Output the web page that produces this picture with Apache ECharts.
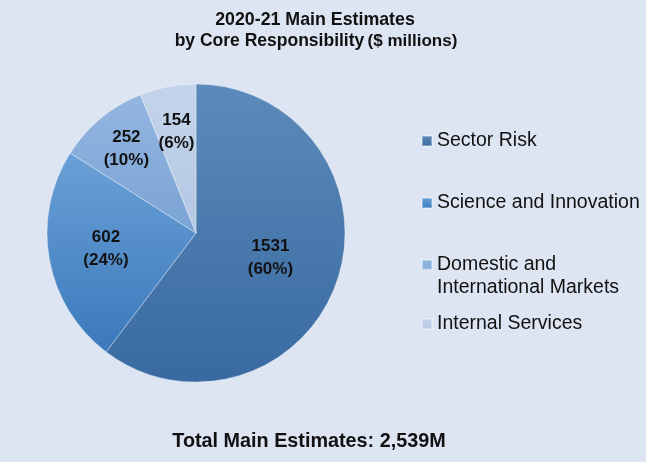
<!DOCTYPE html>
<html>
<head>
<meta charset="utf-8">
<script src="https://cdn.jsdelivr.net/npm/echarts@6/dist/echarts.min.js"></script>
<style>
html,body{margin:0;padding:0;background:#dde4f2;}
#chart{width:646px;height:462px;}
</style>
</head>
<body>
<div id="chart"></div>
<script>
// ---- data ----
const categories = ['Sector Risk', 'Science and Innovation', 'Domestic and International Markets', 'Internal Services'];
const values = [1531, 602, 252, 154];
const titleLine1 = '2020-21 Main Estimates';
const titleLine2 = 'by Core Responsibility';
const titleUnit = '($ millions)';
const totalText = 'Total Main Estimates: 2,539M';

// ---- styles ----
const FONT = '"Liberation Sans", Arial, sans-serif';
const sliceColors = [
  ['#5c8aba', '#386aa1'],
  ['#6aa0d7', '#3b79bb'],
  ['#93b6e0', '#7aa3d4'],
  ['#c4d4ea', '#b3c8e4']
];
const center = [196, 233];
const R = 149;
const labelInner = [2, 28, 63, 51]; // inner radius of the ring used to place each slice label

function grad(c) {
  return new echarts.graphic.LinearGradient(0, 0, 0, 1, [
    {offset: 0, color: c[0]}, {offset: 1, color: c[1]}
  ]);
}

const mainData = categories.map((n, i) => ({
  name: n, value: values[i], itemStyle: {color: grad(sliceColors[i])}
}));

const series = [{
  type: 'pie',
  center: center,
  radius: [0, R],
  startAngle: 90,
  clockwise: true,
  data: mainData,
  label: {show: false},
  labelLine: {show: false},
  itemStyle: {borderColor: 'rgba(255,255,255,0.35)', borderWidth: 1},
  emphasis: {disabled: true},
  silent: true,
  animation: false
}];

categories.forEach((_, k) => {
  series.push({
    type: 'pie',
    center: center,
    radius: [labelInner[k], R],
    startAngle: 90,
    clockwise: true,
    silent: true,
    animation: false,
    emphasis: {disabled: true},
    legendHoverLink: false,
    itemStyle: {color: 'rgba(0,0,0,0)'},
    labelLine: {show: false},
    data: categories.map((n, i) => ({
      name: n, value: values[i],
      label: {show: i === k}
    })),
    label: {
      position: 'inside',
      formatter: p => p.value + '\n(' + Math.round(p.percent) + '%)',
      fontFamily: FONT,
      fontWeight: 'bold',
      fontSize: 17,
      lineHeight: 23,
      color: '#111'
    }
  });
});

const legendTops = [130, 192, 252.5, 313];
const legends = categories.map((n, i) => {
  const twoLine = n === 'Domestic and International Markets';
  return {
    data: [n],
    orient: 'vertical',
    left: 421,
    top: legendTops[i],
    padding: 0,
    icon: twoLine ? 'path://M0,0h0.01v0.01h-0.01zM0,6.5h10v9.5h-10zM0,44.99h0.01v0.01h-0.01z' : 'rect',
    itemWidth: 10,
    itemHeight: twoLine ? 45 : 10,
    selectedMode: false,
    formatter: name => twoLine ? 'Domestic and\nInternational Markets' : name,
    textStyle: {fontFamily: FONT, fontSize: 19.5, lineHeight: twoLine ? 22.5 : 22, color: '#111'}
  };
});

const chart = echarts.init(document.getElementById('chart'), null, {renderer: 'canvas'});
chart.setOption({
  backgroundColor: '#dde4f2',
  animation: false,
  legend: legends,
  series: series,
  graphic: [
    {type: 'text', x: 315, y: 20, style: {text: titleLine1, textAlign: 'center', textVerticalAlign: 'middle', font: 'bold 17.8px ' + FONT, fill: '#111'}},
    {type: 'text', x: 316, y: 41.5, style: {
      text: '{a|' + titleLine2 + '} {b|' + titleUnit + '}', textAlign: 'center', textVerticalAlign: 'middle', fill: '#111',
      rich: {a: {fontFamily: FONT, fontWeight: 'bold', fontSize: 17.5}, b: {fontFamily: FONT, fontWeight: 'bold', fontSize: 17}}
    }},
    {type: 'text', x: 309, y: 441.5, style: {text: totalText, textAlign: 'center', textVerticalAlign: 'middle', font: 'bold 19.8px ' + FONT, fill: '#111'}}
  ]
});
</script>
</body>
</html>
